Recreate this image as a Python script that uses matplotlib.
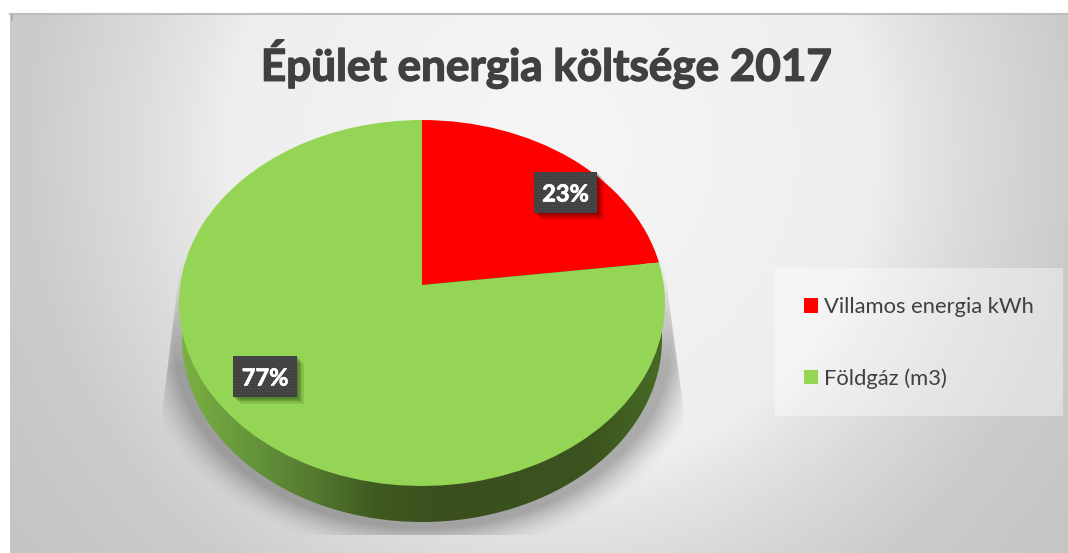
import numpy as np
import matplotlib
matplotlib.use("Agg")
import matplotlib.pyplot as plt
import matplotlib.patheffects as pe
from matplotlib import transforms as mtrans
from matplotlib.colors import LinearSegmentedColormap
from matplotlib.patches import Rectangle, Ellipse, Polygon

title = "Épület energia költsége 2017"
categories = ["Villamos energia kWh", "Földgáz (m3)"]
values = [23, 77]
colors = ["#ff0000", "#94d555"]

W, H = 1068, 553
plt.rcParams["hatch.linewidth"] = 0.5
fig = plt.figure(figsize=(W / 100, H / 100), dpi=100, facecolor="white")
ax = fig.add_axes([0, 0, 1, 1])
ax.axis("off")


class Persp(mtrans.Transform):
    """Tilted-disc projection from the unit pie to pixel coordinates."""
    input_dims = output_dims = 2
    has_inverted = False

    def transform_non_affine(self, v):
        v = np.asarray(v, float)
        w = 1 + 0.0984 * v[:, 1]
        return np.column_stack([422 + 241.8 * v[:, 0] / w, 285 - 181.2 * v[:, 1] / w])


# background
yy, xx = np.mgrid[0:H, 0:W]
t = np.sqrt(((xx - 550) / 500.0) ** 2 + ((yy - 150) / 500.0) ** 2)
bg = np.interp(t, [0, 0.65, 0.72, 0.84, 1.04, 1.2, 1.35], [246, 238, 230, 219, 204, 199, 196])
rgb = np.repeat((bg / 255.0)[..., None], 3, axis=2)
im = ax.imshow(rgb, extent=(0, W, H, 0), aspect="auto", zorder=0, interpolation="bilinear")
im.set_clip_path(Rectangle((10, 14), W - 10, H - 14, transform=ax.transData))
ax.plot([10, W], [13.5, 13.5], color="#bdbdbd", lw=1.5, zorder=1)
ax.plot([11.5, 11.5], [15, 20], color="#a8a8a8", lw=1.2, zorder=1)

# shadow below the pie
d = (np.sqrt(((xx - 422) / 248.0) ** 2 + ((yy - 342) / 186.0) ** 2) - 1) * 215
ramp = np.clip((yy - 255) / 110.0, 0, 1)
a = np.clip(1 - d / 34.0, 0, 1) ** 1.6 * 0.36 * ramp
rgba = np.zeros((H, W, 4))
rgba[..., :3] = 0.2
rgba[..., 3] = a
sh = ax.imshow(rgba, extent=(0, W, H, 0), aspect="auto", zorder=2, interpolation="bilinear")
sh.set_clip_path(Polygon([(182, 250), (163, 405), (163, 470), (300, 535), (560, 535), (683, 470), (683, 405), (662, 250)],
                         transform=ax.transData))

# pie side
side_cmap = LinearSegmentedColormap.from_list(
    "side", [(0, "#7bb044"), (0.15, "#64933a"), (0.27, "#557a30"), (0.40, "#3f5b20"),
             (0.55, "#3a4e1e"), (0.85, "#3c541f"), (1, "#466a24")])
grad = np.linspace(0, 1, 256)[None, :]
side = ax.imshow(grad, cmap=side_cmap, extent=(182, 662, 530, 250), aspect="auto", zorder=3)
side.set_clip_path(Ellipse((422, 339), 480, 366, transform=ax.transData))

# pie top
wedges, _ = ax.pie(values, colors=colors, startangle=90, counterclock=False, radius=1,
                   wedgeprops=dict(linewidth=0, zorder=4))
persp = Persp() + ax.transData
for w_ in wedges:
    w_.set_transform(persp)
    w_.set_zorder(4)

ax.set_aspect("auto")
ax.set_xlim(0, W)
ax.set_ylim(H, 0)


def label(x0, y0, x1, y1, txt, shadow):
    for k in range(6):
        off = 1 + k * 1.1
        ax.add_patch(Rectangle((x0 + off, y0 + off), x1 - x0, y1 - y0, fc=shadow, ec="none", alpha=0.14, zorder=5))
    ax.add_patch(Rectangle((x0, y0), x1 - x0, y1 - y0, fc="#404040", ec="#555555", lw=0, hatch="......", zorder=6))
    ax.text((x0 + x1) / 2, (y0 + y1) / 2 + 1.5, txt, color="white", fontsize=17, fontweight="bold",
            family="Lato", ha="center", va="center", zorder=7,
            path_effects=[pe.withStroke(linewidth=0.5, foreground="white")])


label(534, 172, 597, 213, f"{values[0]}%", "#550000")
label(233, 356, 297, 397, f"{values[1]}%", "#2c4a10")

# title
ax.text(546, 64, title, color="#404040", fontsize=31.7, fontweight="bold", family="Lato",
        ha="center", va="center", zorder=7,
        path_effects=[pe.withStroke(linewidth=1.0, foreground="#404040")])

# legend
ax.add_patch(Rectangle((775, 268), 288, 148, fc="white", ec="none", alpha=0.4, zorder=5))
leg = ax.legend(wedges, categories, loc="upper left", bbox_to_anchor=(804 / W, 1 - 297 / H), frameon=False,
                prop=dict(family="Lato", size=15.8), labelcolor="#404040", handlelength=0.65, handleheight=0.65,
                handletextpad=0.28, labelspacing=2.33, borderpad=0, borderaxespad=0)
leg.set_zorder(8)

fig.savefig("out.png", dpi=100, facecolor="white")
